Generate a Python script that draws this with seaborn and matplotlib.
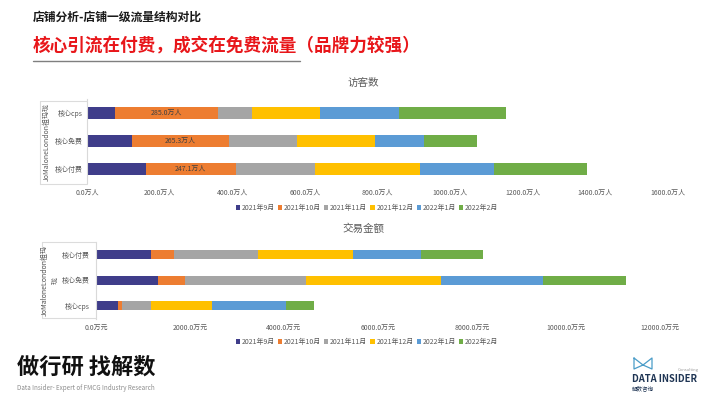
import numpy as np
import pandas as pd
import matplotlib
matplotlib.use('Agg')
import matplotlib.pyplot as plt
import seaborn as sns
from matplotlib.patches import Patch
from matplotlib.lines import Line2D

# ---------------- data ----------------
months = ['2021年9月', '2021年10月', '2021年11月', '2021年12月', '2022年1月', '2022年2月']
colors = ['#3f3d8a', '#ed7d31', '#a5a5a5', '#ffc000', '#5b9bd5', '#70ad47']

visit_cats = ['核心cps', '核心免费', '核心付费']
visit_sep = [77, 125, 162]
visit_oct = [285.0, 265.3, 247.1]
visit_nov = [92, 189, 218]
visit_dec = [188, 213, 289]
visit_jan = [218, 136, 205]
visit_feb = [294, 147, 255]
visit_ticks = [0, 200, 400, 600, 800, 1000, 1200, 1400, 1600]

gmv_cats = ['核心付费', '核心免费', '核心cps']
gmv_sep = [1170, 1326, 475]
gmv_oct = [490, 568, 85]
gmv_nov = [1781, 2575, 611]
gmv_dec = [2021, 2866, 1304]
gmv_jan = [1453, 2183, 1562]
gmv_feb = [1326, 1760, 602]
gmv_ticks = [0, 2000, 4000, 6000, 8000, 10000, 12000]

# ---------------- style ----------------
sns.set_theme(style='white')
plt.rcParams['font.family'] = ['Noto Sans CJK SC', 'DejaVu Sans']

W, H = 710, 399
fig = plt.figure(figsize=(W / 100, H / 100), dpi=100)
fig.patch.set_facecolor('white')


def fx(px):
    return px / W


def fy(py):
    return 1 - py / H


GRAY = '#595959'


def stacked(ax, cats, series, width):
    arr = np.array(series, dtype=float)
    cum = np.cumsum(arr, axis=0)
    for i in range(len(series) - 1, -1, -1):
        df = pd.DataFrame({'cat': cats, 'val': cum[i]})
        sns.barplot(data=df, x='val', y='cat', orient='h', color=colors[i],
                    width=width, ax=ax, saturation=1, order=cats,
                    errorbar=None, linewidth=0)
    return cum


def style_axis(ax, ticks, unit, xmax, pad):
    ax.set_xlim(0, xmax)
    ax.set_ylim(2.5, -0.5)
    ax.set_xticks(ticks)
    ax.set_xticklabels([f'{t:.1f}{unit}' for t in ticks], fontsize=5, color=GRAY)
    ax.tick_params(axis='y', labelsize=5, labelcolor=GRAY, length=0, pad=pad)
    ax.tick_params(axis='x', length=0, pad=4)
    ax.set_xlabel('')
    ax.set_ylabel('')
    for s in ['top', 'right', 'bottom']:
        ax.spines[s].set_visible(False)
    ax.spines['left'].set_color('#d9d9d9')
    ax.spines['left'].set_linewidth(0.8)
    ax.grid(False)


# ---------------- top chart ----------------
ax1 = fig.add_axes([fx(87), fy(183), fx(668) - fx(87), (183 - 99) / H])
cum1 = stacked(ax1, visit_cats,
               [visit_sep, visit_oct, visit_nov, visit_dec, visit_jan, visit_feb], 0.42)
style_axis(ax1, visit_ticks, '万人', 1600, 3.3)
for i, v in enumerate(visit_oct):
    ax1.text(cum1[0][i] + v / 2, i, f'{v:.1f}万人', ha='center', va='center',
             fontsize=5, color='#404040')

# ---------------- bottom chart ----------------
ax2 = fig.add_axes([fx(96), fy(318.5), fx(660) - fx(96), (318.5 - 242) / H])
stacked(ax2, gmv_cats,
        [gmv_sep, gmv_oct, gmv_nov, gmv_dec, gmv_jan, gmv_feb], 0.35)
style_axis(ax2, gmv_ticks, '万元', 12000, 4.3)

# group label boxes
lc = '#dcdcdc'
for (x0, x1, y0, y1) in [(40, 87, 101, 184), (42, 96, 242, 318)]:
    fig.add_artist(Line2D([fx(x0), fx(x0)], [fy(y0), fy(y1)], color=lc, lw=0.8))
    fig.add_artist(Line2D([fx(x0), fx(x1)], [fy(y0), fy(y0)], color=lc, lw=0.8))
    fig.add_artist(Line2D([fx(x0), fx(x1)], [fy(y1), fy(y1)], color=lc, lw=0.8))

fig.text(fx(46.5), fy(142), 'JoMaloneLondon祖玛珑', rotation=90, ha='center', va='center',
         fontsize=5, color=GRAY)
fig.text(fx(50), fy(280), 'JoMaloneLondon祖玛\n珑', rotation=90, ha='center', va='center',
         fontsize=5, color=GRAY, linespacing=1.45)

# titles
fig.text(fx(363), fy(83), '访客数', ha='center', va='center', fontsize=7.6, color=GRAY)
fig.text(fx(363), fy(229), '交易金额', ha='center', va='center', fontsize=7.6, color=GRAY)

# legends
handles = [Patch(facecolor=c, edgecolor='none') for c in colors]
for ly in [208, 342]:
    fig.legend(handles, months, loc='center', bbox_to_anchor=(fx(367), fy(ly)),
               ncol=6, frameon=False, fontsize=5, handlelength=0.6, handleheight=0.6,
               handletextpad=0.25, columnspacing=0.45, labelcolor=GRAY)

# header
fig.text(fx(33), fy(17), '店铺分析-店铺一级流量结构对比', ha='left', va='center',
         fontsize=8.5, fontweight='bold', color='#1a1a1a')
fig.text(fx(33), fy(45), '核心引流在付费，成交在免费流量（品牌力较强）', ha='left', va='center',
         fontsize=12.7, fontweight='bold', color='#e8161a')
fig.add_artist(Line2D([fx(33), fx(300)], [fy(61), fy(61)], color='#7f7f7f', lw=1))

# footer
fig.text(fx(17), fy(367), '做行研 找解数', ha='left', va='center', fontsize=16,
         fontweight='bold', color='#111111')
fig.text(fx(17), fy(388), 'Data Insider- Expert of FMCG Industry Research', ha='left',
         va='center', fontsize=4.5, color='#8c8c8c')

# logo
pts = [(634, 358), (643, 365), (652, 358), (652, 369), (643, 365), (634, 369), (634, 358)]
fig.add_artist(Line2D([fx(p[0]) for p in pts], [fy(p[1]) for p in pts],
                      color='#4a9cc8', lw=0.9))
fig.text(fx(688), fy(370), 'Consulting', ha='center', va='center', fontsize=3, color='#999999')
fig.text(fx(632), fy(379), 'DATA INSIDER', ha='left', va='center', fontsize=6.8,
         fontweight='bold', color='#1f3554')
fig.text(fx(632), fy(388.5), '解数咨询', ha='left', va='center', fontsize=4,
         color='#1f3554')

fig.savefig('out.png', dpi=100, facecolor='white')
